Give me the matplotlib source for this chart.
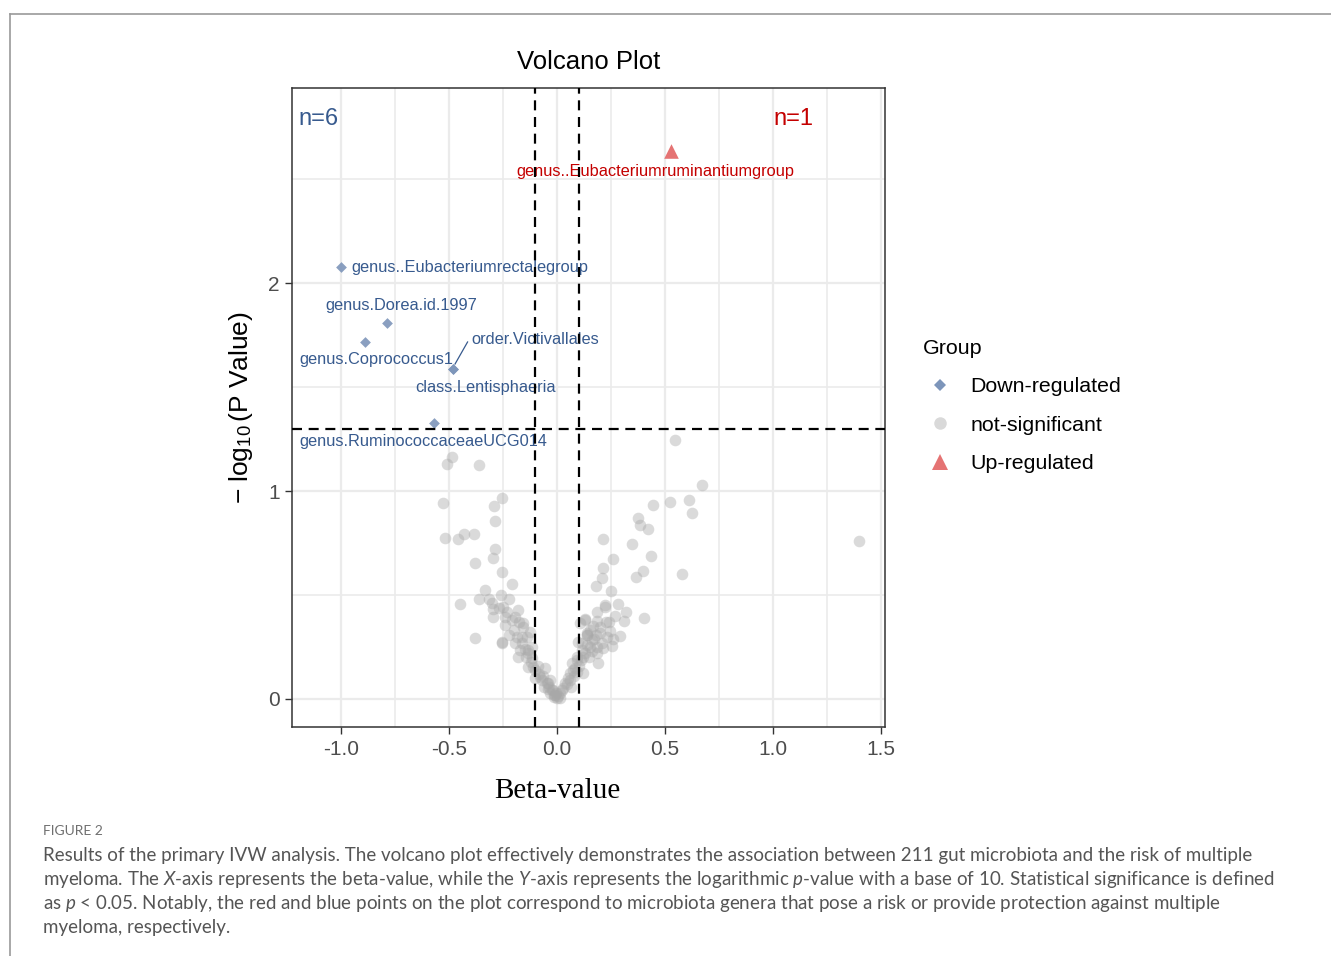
import matplotlib
matplotlib.use("Agg")
import matplotlib.pyplot as plt
from matplotlib.lines import Line2D

plt.rcParams["font.family"] = ["Liberation Sans", "DejaVu Sans"]
plt.rcParams["mathtext.fontset"] = "custom"
plt.rcParams["mathtext.rm"] = "Liberation Sans"
plt.rcParams["mathtext.it"] = "Lato:italic"
plt.rcParams["mathtext.sf"] = "Liberation Sans"

# not-significant points (beta, -log10 p)
ns_beta = [
    -0.487, -0.508, -0.361, -0.526, -0.256, -0.29, -0.287, -0.52, -0.457, -0.429,
    -0.383, -0.287, -0.298, -0.38, -0.256, -0.21, -0.333, -0.36, -0.449, -0.302,
    -0.221, -0.295, -0.295, -0.249, -0.241, -0.241, -0.194, -0.174, -0.156, -0.38,
    -0.253, -0.253, -0.194, -0.164, -0.125, -0.171, -0.179, -0.133, -0.117, -0.133,
    -0.102, -0.056, -0.079, -0.048, -0.025, -0.009, -0.032, -0.10, -0.157, -0.139,
    -0.134, -0.111, -0.042, -0.019, 0.0,
    -0.2, -0.185, -0.16, -0.15, -0.145, -0.12, -0.09, -0.085, -0.07, -0.06,
    -0.04, -0.03, -0.015, -0.005, -0.21, -0.23, -0.18, -0.27, -0.26, -0.315,
    -0.22, -0.115, -0.065, -0.035, -0.012,
    0.023, 0.037, 0.06, 0.069, 0.093, 0.116, 0.139, 0.106, 0.162, 0.185,
    0.2, 0.214, 0.346, 0.434, 0.258, 0.214, 0.207, 0.179, 0.397, 0.364,
    0.249, 0.284, 0.222, 0.222, 0.319, 0.403, 0.184, 0.13, 0.13, 0.184,
    0.225, 0.31, 0.245, 0.292, 0.137, 0.137, 0.199, 0.207, 0.253, 0.214,
    0.099, 0.153, 0.184, 0.19, 0.12, 0.091, 0.074, 0.12, 0.06, 0.546,
    0.67, 0.523, 0.611, 0.623, 0.444, 0.376, 0.384, 0.42, 0.579, 1.397,
    0.005, 0.012, 0.03, 0.045, 0.05, 0.08, 0.085, 0.1, 0.11, 0.13,
    0.15, 0.16, 0.14, 0.17, 0.18, 0.155, 0.23, 0.26, 0.24, 0.27,
    0.165, 0.015, 0.065, 0.095, 0.115,
]
ns_logp = [
    1.165, 1.13, 1.128, 0.942, 0.965, 0.93, 0.856, 0.776, 0.769, 0.793,
    0.793, 0.721, 0.678, 0.655, 0.612, 0.553, 0.524, 0.479, 0.457, 0.463,
    0.479, 0.431, 0.396, 0.444, 0.396, 0.356, 0.396, 0.372, 0.364, 0.295,
    0.276, 0.27, 0.271, 0.3, 0.324, 0.236, 0.204, 0.236, 0.196, 0.152,
    0.139, 0.147, 0.107, 0.075, 0.043, 0.019, 0.091, 0.10, 0.346, 0.298,
    0.221, 0.154, 0.077, 0.043, 0.005,
    0.33, 0.3, 0.27, 0.24, 0.2, 0.18, 0.16, 0.12, 0.09, 0.06,
    0.05, 0.03, 0.01, 0.03, 0.38, 0.42, 0.43, 0.44, 0.5, 0.48,
    0.31, 0.25, 0.11, 0.06, 0.02,
    0.043, 0.077, 0.125, 0.173, 0.202, 0.236, 0.317, 0.365, 0.284, 0.25,
    0.346, 0.768, 0.745, 0.688, 0.672, 0.628, 0.583, 0.545, 0.617, 0.588,
    0.521, 0.457, 0.444, 0.45, 0.42, 0.388, 0.42, 0.38, 0.385, 0.377,
    0.372, 0.375, 0.328, 0.304, 0.308, 0.31, 0.316, 0.268, 0.256, 0.244,
    0.276, 0.252, 0.22, 0.173, 0.204, 0.188, 0.139, 0.125, 0.091, 1.245,
    1.032, 0.949, 0.957, 0.896, 0.933, 0.873, 0.837, 0.82, 0.601, 0.76,
    0.015, 0.03, 0.055, 0.07, 0.1, 0.11, 0.15, 0.16, 0.19, 0.22,
    0.2, 0.23, 0.26, 0.29, 0.31, 0.33, 0.3, 0.29, 0.37, 0.4,
    0.35, 0.005, 0.06, 0.13, 0.27,
]

# significant taxa
down_names = ["genus..Eubacteriumrectalegroup", "genus.Dorea.id.1997", "genus.Coprococcus1",
              "order.Victivallales", "class.Lentisphaeria", "genus.RuminococcaceaeUCG014"]
down_beta = [-1.0, -0.787, -0.889, -0.481, -0.481, -0.569]
down_logp = [2.08, 1.81, 1.72, 1.587, 1.587, 1.327]
# label anchor positions (data units)
down_lab_x = [-0.954, -0.722, -0.838, -0.398, -0.329, -0.62]
down_lab_y = [2.077, 1.894, 1.635, 1.731, 1.50, 1.24]
down_lab_ha = ["left", "center", "center", "left", "center", "center"]

up_names = ["genus..Eubacteriumruminantiumgroup"]
up_beta = [0.528]
up_logp = [2.635]
up_lab_x = [0.454]
up_lab_y = [2.538]

caption = [
    "Results of the primary IVW analysis. The volcano plot effectively demonstrates the association between 211 gut microbiota and the risk of multiple",
    r"myeloma. The $X$-axis represents the beta-value, while the $Y$-axis represents the logarithmic $p$-value with a base of 10. Statistical significance is defined",
    r"as $p$ < 0.05. Notably, the red and blue points on the plot correspond to microbiota genera that pose a risk or provide protection against multiple",
    "myeloma, respectively.",
]

blue_pt = "#7d95ba"
blue_txt = "#375a8e"
red_pt = "#e57373"
red_txt = "#c40000"

fig = plt.figure(figsize=(13.31, 9.56), dpi=100)
ax = fig.add_axes([0.2194, 0.2395, 0.4455, 0.6684])

ax.scatter(ns_beta, ns_logp, s=70, color="#a8a8a8", alpha=0.42, linewidths=0, zorder=3)
ax.scatter(down_beta, down_logp, s=30, marker="D", color=blue_pt, alpha=0.9, linewidths=0, zorder=4)
ax.scatter(up_beta, up_logp, s=110, marker="^", color=red_pt, linewidths=0, zorder=4)

for name, x, y, ha in zip(down_names, down_lab_x, down_lab_y, down_lab_ha):
    ax.text(x, y, name, color=blue_txt, fontsize=11.8, ha=ha, va="center", zorder=5)
ax.plot([-0.472, -0.414], [1.612, 1.718], color=blue_txt, lw=0.9, zorder=5)
for name, x, y in zip(up_names, up_lab_x, up_lab_y):
    ax.text(x, y, name, color=red_txt, fontsize=11.8, ha="center", va="center", zorder=5)

ax.text(-1.199, 2.793, "n=6", color=blue_txt, fontsize=17, ha="left", va="center")
ax.text(1.093, 2.793, "n=1", color=red_txt, fontsize=17, ha="center", va="center")

ax.axvline(-0.1, color="black", ls=(0, (4.5, 3)), lw=1.6, zorder=6)
ax.axvline(0.1, color="black", ls=(0, (4.5, 3)), lw=1.6, zorder=6)
ax.axhline(1.301, color="black", ls=(0, (4.5, 3)), lw=1.6, zorder=6)

ax.set_xlim(-1.227, 1.519)
ax.set_ylim(-0.135, 2.94)
ax.set_xticks([-1.0, -0.5, 0.0, 0.5, 1.0, 1.5])
ax.set_xticklabels(["-1.0", "-0.5", "0.0", "0.5", "1.0", "1.5"])
ax.set_yticks([0, 1, 2])
ax.set_xticks([-0.75, -0.25, 0.25, 0.75, 1.25], minor=True)
ax.set_yticks([0.5, 1.5, 2.5], minor=True)
ax.grid(which="major", color="#ebebeb", lw=1.6, zorder=0)
ax.grid(which="minor", color="#ebebeb", lw=1.2, zorder=0)
ax.tick_params(which="minor", length=0)
ax.tick_params(which="major", length=5, width=1, color="#333333", labelsize=15,
               labelcolor="#4d4d4d", pad=4)
for sp in ax.spines.values():
    sp.set_color("#333333")
    sp.set_linewidth(1.1)
ax.set_axisbelow(True)

ax.set_title("Volcano Plot", fontsize=18.5, pad=14)
ax.set_xlabel("Beta-value", family="Liberation Serif", fontsize=21, labelpad=14)
ax.xaxis.set_label_coords(0.447, -0.08)
ax.set_ylabel(r"$-\ \log_{10}$(P Value)", fontsize=19, labelpad=9)

handles = [
    Line2D([], [], ls="none", marker="D", ms=6, color=blue_pt, mew=0),
    Line2D([], [], ls="none", marker="o", ms=9, color="#d9d9d9", mew=0),
    Line2D([], [], ls="none", marker="^", ms=11, color=red_pt, mew=0),
]
leg = fig.legend(handles, ["Down-regulated", "not-significant", "Up-regulated"], title="Group",
                 loc="upper left", bbox_to_anchor=(0.685, 0.657), frameon=False,
                 fontsize=15.4, title_fontsize=15.4, handlelength=1.68, handletextpad=0.56,
                 labelspacing=0.92, borderpad=0, alignment="left")
leg._legend_box.sep = 14

# page frame and caption
fig.add_artist(Line2D([0.0075, 1.0], [0.9854, 0.9854], color="#9a9a9a", lw=1.2))
fig.add_artist(Line2D([0.0075, 0.0075], [0.0, 0.9854], color="#9a9a9a", lw=1.2))
fig.text(0.0323, 0.1308, "FIGURE 2", family="Lato", fontsize=10, color="#6f6f6f", va="center")
for i, line in enumerate(caption):
    fig.text(0.0323, 0.1047 - i * 0.0251, line, family="Lato", fontsize=13.5,
             color="#555555", va="center")

fig.savefig("out.png", dpi=100)
